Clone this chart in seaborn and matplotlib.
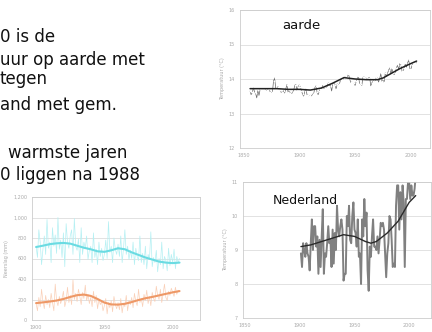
import numpy as np
import pandas as pd
import matplotlib
matplotlib.use("Agg")
import matplotlib.pyplot as plt
import seaborn as sns

# --- text on the slide (left part is cut off in the original) ---
text_lines = ["0 is de", "uur op aarde met", "tegen", "and met gem.", "warmste jaren", "0 liggen na 1988"]
text_x_px = [0, 0, 0, 0, 8, 0]
text_base_px = [42, 65, 84, 110, 158, 180]

# --- aarde: global mean temperature (degC) ---
aarde_years = list(range(1856, 2006))
aarde_temp = [
    13.65, 13.54, 13.61, 13.74, 13.63, 13.58, 13.45, 13.67, 13.52, 13.70,
    13.72, 13.70, 13.72, 13.73, 13.70, 13.67, 13.72, 13.70, 13.63, 13.60,
    13.62, 13.94, 14.03, 13.72, 13.73, 13.78, 13.71, 13.68, 13.60, 13.61,
    13.66, 13.59, 13.72, 13.84, 13.62, 13.67, 13.59, 13.57, 13.61, 13.66,
    13.82, 13.84, 13.67, 13.78, 13.83, 13.77, 13.65, 13.56, 13.50, 13.65,
    13.71, 13.54, 13.53, 13.50, 13.53, 13.51, 13.56, 13.58, 13.75, 13.80,
    13.61, 13.54, 13.66, 13.72, 13.73, 13.81, 13.72, 13.74, 13.73, 13.78,
    13.89, 13.80, 13.81, 13.65, 13.86, 13.90, 13.84, 13.71, 13.86, 13.83,
    13.86, 13.98, 14.00, 13.98, 14.02, 14.06, 14.04, 14.05, 14.14, 14.03,
    13.90, 13.91, 13.90, 13.89, 13.81, 13.93, 14.01, 14.08, 13.87, 13.86,
    13.81, 14.05, 14.06, 14.03, 13.97, 14.05, 14.03, 14.05, 13.80, 13.89,
    13.94, 13.98, 13.93, 14.05, 14.03, 13.91, 14.01, 14.16, 13.93, 13.99,
    13.90, 14.18, 14.07, 14.16, 14.26, 14.32, 14.14, 14.31, 14.16, 14.12,
    14.18, 14.33, 14.40, 14.27, 14.45, 14.41, 14.22, 14.23, 14.32, 14.45,
    14.34, 14.47, 14.55, 14.30, 14.28, 14.41, 14.46, 14.47, 14.45, 14.48,
]
aarde_smooth_years = [1856, 1870, 1880, 1890, 1900, 1910, 1920, 1930, 1940, 1950,
                      1960, 1970, 1975, 1980, 1990, 2000, 2005]
aarde_smooth = [13.72, 13.72, 13.72, 13.70, 13.70, 13.68, 13.74, 13.88, 14.04, 14.00,
                13.98, 13.98, 14.03, 14.12, 14.30, 14.45, 14.52]
aarde_yticks = [12, 13, 14, 15, 16]
aarde_xticks = [1850, 1900, 1950, 2000]

# --- Nederland: De Bilt yearly mean temperature (degC) ---
nl_years = list(range(1901, 2007))
nl_temp = [
    8.9, 8.5, 9.2, 9.0, 8.8, 9.2, 8.9, 8.8, 8.4, 9.2,
    9.9, 9.0, 9.7, 9.7, 9.1, 9.4, 8.3, 9.3, 8.5, 9.4,
    10.2, 8.3, 8.9, 8.8, 9.2, 9.7, 9.2, 9.3, 8.5, 9.6,
    8.6, 9.5, 9.0, 10.3, 9.6, 9.4, 9.7, 9.9, 9.6, 8.1,
    8.3, 8.3, 10.0, 9.7, 10.3, 9.3, 9.2, 10.0, 10.4, 9.6,
    9.5, 9.1, 9.9, 8.8, 8.9, 8.0, 9.9, 9.4, 10.5, 9.7,
    10.1, 8.4, 7.8, 9.1, 8.8, 9.4, 9.9, 9.1, 9.1, 9.0,
    9.4, 8.9, 9.3, 9.8, 9.7, 9.8, 9.6, 8.9, 8.2, 8.9,
    9.2, 10.0, 9.9, 9.3, 8.5, 8.6, 8.5, 10.3, 10.9, 10.9,
    9.6, 10.7, 9.9, 10.9, 10.4, 8.5, 10.5, 10.5, 11.0, 11.0,
    10.5, 10.9, 10.6, 10.6, 10.8, 11.2,
]
nl_smooth_years = [1901, 1910, 1920, 1930, 1940, 1950, 1960, 1965, 1970, 1980, 1990, 2000, 2006]
nl_smooth = [9.1, 9.15, 9.25, 9.35, 9.45, 9.4, 9.25, 9.2, 9.25, 9.5, 9.85, 10.4, 10.6]
nl_yticks = [7, 8, 9, 10, 11]
nl_xticks = [1850, 1900, 1950, 2000]

# --- bottom left: two yearly series (mm) ---
nb_years = list(range(1900, 2006))
nb_cyan = [
    720, 610, 880, 760, 540, 690, 820, 640, 980, 700,
    760, 560, 900, 720, 830, 650, 1000, 690, 780, 610,
    850, 520, 940, 760, 700, 820, 880, 640, 990, 720,
    680, 790, 560, 900, 640, 760, 700, 820, 590, 680,
    720, 560, 850, 610, 690, 540, 760, 620, 700, 580,
    640, 780, 600, 960, 660, 720, 560, 800, 690, 640,
    740, 620, 820, 560, 700, 880, 640, 720, 590, 680,
    600, 760, 540, 700, 620, 580, 820, 560, 650, 540,
    720, 500, 640, 590, 860, 520, 610, 560, 680, 470,
    600, 540, 760, 500, 620, 580, 480, 700, 530, 640,
    560, 690, 500, 620, 560, 600,
]
nb_orange = [
    160, 90, 220, 130, 300, 180, 110, 240, 150, 200,
    120, 260, 170, 90, 350, 190, 140, 230, 160, 210,
    280, 130, 190, 320, 170, 240, 150, 390, 200, 260,
    180, 300, 230, 150, 270, 210, 340, 190, 250, 160,
    220, 130, 280, 170, 240, 110, 200, 150, 180, 90,
    140, 210, 60, 170, 120, 190, 80, 230, 150, 110,
    170, 100, 210, 70, 160, 130, 240, 90, 190, 150,
    220, 120, 260, 180, 140, 300, 170, 210, 130, 250,
    190, 290, 160, 230, 140, 270, 210, 180, 330, 240,
    200, 300, 170, 260, 350, 220, 190, 280, 240, 310,
    270, 230, 320, 250, 290, 280,
]
nb_smooth_years = list(range(1900, 2010, 5))
nb_cyan_smooth = [712, 725, 740, 748, 752, 745, 725, 705, 690, 670, 665,
                  680, 700, 690, 660, 635, 610, 590, 570, 560, 555, 560]
nb_orange_smooth = [165, 172, 180, 190, 205, 225, 242, 248, 235, 205, 170,
                    152, 150, 158, 175, 195, 212, 225, 240, 255, 270, 282]
nb_yticks = [0, 200, 400, 600, 800, 1000, 1200]
nb_yticklabels = ["0", "200", "400", "600", "800", "1,000", "1,200"]
nb_xticks = [1900, 1950, 2000]

sns.set_style("white")
plt.rcParams['font.family'] = ['DejaVu Sans']

W, H = 432, 332
fig = plt.figure(figsize=(W / 100, H / 100), dpi=100)


def box(left, top, right, bottom):
    return [left / W, 1 - bottom / H, (right - left) / W, (bottom - top) / H]


def style_axes(ax, ylabel):
    ax.grid(axis='y', color='#dddddd', linewidth=0.6)
    ax.grid(axis='x', visible=False)
    for s in ax.spines.values():
        s.set_color('#cccccc')
        s.set_linewidth(0.6)
    ax.tick_params(labelsize=3.5, colors='#aaaaaa', length=1.5, width=0.4, pad=2)
    ax.set_xlabel('')
    ax.set_ylabel(ylabel, fontsize=3.5, color='#aaaaaa', labelpad=3)
    if ax.get_legend():
        ax.get_legend().remove()


# text block
for t, x, b in zip(text_lines, text_x_px, text_base_px):
    fig.text(x / W, 1 - b / H, t, fontsize=12, color='#111111', va='baseline', ha='left')

# aarde
ax1 = fig.add_axes(box(240, 10, 430, 148))
sns.lineplot(x=aarde_years, y=aarde_temp, ax=ax1, color='#666666', linewidth=0.5,
             marker='+', markersize=2, markeredgewidth=0.4)
sns.lineplot(x=aarde_smooth_years, y=aarde_smooth, ax=ax1, color='#222222', linewidth=1.1)
ax1.set_ylim(12, 16)
ax1.set_xlim(1847, 2017)
ax1.set_yticks(aarde_yticks)
ax1.set_xticks(aarde_xticks)
style_axes(ax1, 'Temperatuur (°C)')
ax1.text(0.22, 0.86, 'aarde', transform=ax1.transAxes, fontsize=9.5, color='#111111')

# Nederland
ax2 = fig.add_axes(box(243, 182, 431, 318))
sns.lineplot(x=nl_years, y=nl_temp, ax=ax2, color='#808080', linewidth=1.4)
sns.lineplot(x=nl_smooth_years, y=nl_smooth, ax=ax2, color='#2a2a2a', linewidth=1.0)
ax2.set_ylim(7, 11)
ax2.set_xlim(1848, 2020)
ax2.set_yticks(nl_yticks)
ax2.set_xticks(nl_xticks)
style_axes(ax2, 'Temperatuur (°C)')
ax2.text(0.16, 0.84, 'Nederland', transform=ax2.transAxes, fontsize=9, color='#111111')

# bottom left
ax3 = fig.add_axes(box(32, 197, 200, 320))
sns.lineplot(x=nb_years, y=nb_cyan, ax=ax3, color='#b5f0f3', linewidth=0.5)
sns.lineplot(x=nb_years, y=nb_orange, ax=ax3, color='#fad0b8', linewidth=0.5)
sns.lineplot(x=nb_smooth_years, y=nb_cyan_smooth, ax=ax3, color='#6adbe2', linewidth=1.5)
sns.lineplot(x=nb_smooth_years, y=nb_orange_smooth, ax=ax3, color='#ee9866', linewidth=1.5)
ax3.set_ylim(0, 1200)
ax3.set_xlim(1897, 2020)
ax3.set_yticks(nb_yticks)
ax3.set_yticklabels(nb_yticklabels)
ax3.set_xticks(nb_xticks)
style_axes(ax3, 'Neerslag (mm)')

fig.savefig('out.png', dpi=100)
